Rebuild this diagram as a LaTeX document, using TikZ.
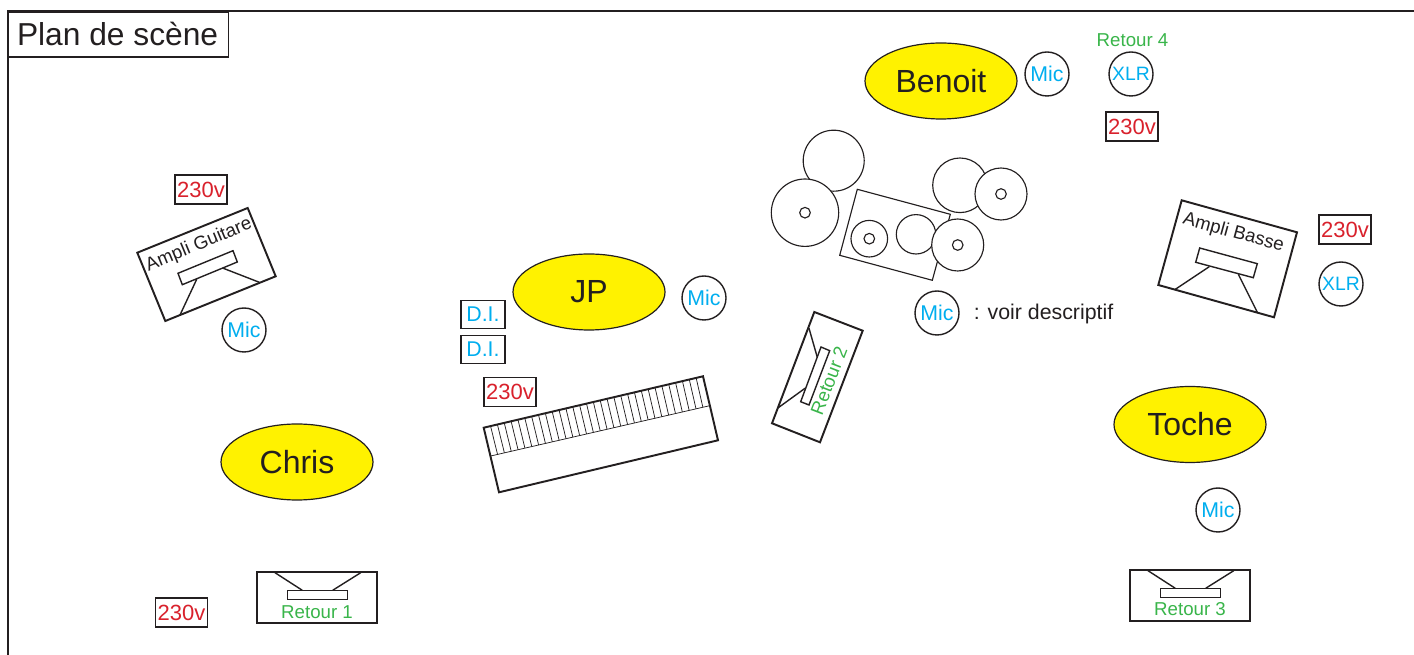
\documentclass[tikz,border=0pt]{standalone}
\usepackage{fontspec}
\setmainfont{Liberation Sans}
\usetikzlibrary{calc,shapes.geometric}
\definecolor{ink}{HTML}{231F20}
\definecolor{micblue}{HTML}{00AEEF}
\definecolor{powred}{HTML}{D9212C}
\definecolor{retgreen}{HTML}{39B54A}
\definecolor{stagey}{HTML}{FFF200}
\newcommand{\fs}[1]{\fontsize{#1}{#1}\selectfont}
\tikzset{
  x=0.75pt,y=-0.75pt,
  line/.style={draw=ink,line width=1.45pt},
  thin line/.style={draw=ink,line width=1.05pt},
  hair/.style={draw=ink,line width=0.55pt},
  musician/.style={ellipse,draw=ink,line width=0.9pt,fill=stagey,minimum width=114pt,minimum height=57pt,inner sep=0pt,text=ink,font=\fs{24}},
  plug/.style={circle,draw=ink,line width=1.05pt,fill=white,minimum size=33pt,inner sep=0pt,text=micblue,font=\fs{16}},
  power/.style={rectangle,draw=ink,line width=1.2pt,fill=white,minimum width=39pt,minimum height=22pt,inner sep=0pt,text=powred,font=\fs{16.5}},
  di/.style={rectangle,draw=ink,line width=1.2pt,fill=white,minimum width=33pt,minimum height=21pt,inner sep=0pt,text=micblue,font=\fs{16}},
  retour/.style={text=retgreen,font=\fs{14},inner sep=0pt},
  amp/.style={text=ink,font=\fs{14},inner sep=0pt},
  drum/.style={draw=ink,line width=0.85pt,fill=white},
}
\begin{document}
\begin{tikzpicture}
\useasboundingbox[fill=white] (0,0) rectangle (1414,655);
% frame
\draw[line] (8,655) -- (8,11) -- (1414,11);
\node[draw=ink,line width=1.3pt,fill=white,anchor=north west,minimum width=165pt,minimum height=33.75pt,inner sep=0pt,font=\fs{23.8},text=ink] (title) at (7.5,11) {\kern-1.2pt Plan de scène};

% musicians
\node[musician] (benoit) at (941,81) {Benoit};
\node[musician] (jp) at (589,292) {JP};
\node[musician] (chris) at (297,462) {Chris};
\node[musician] (toche) at (1190,424.5) {Toche};

% mics and XLR
\node[plug] (mic1) at (1047,74) {Mic};
\node[plug] (mic2) at (704,298) {Mic};
\node[plug] (mic3) at (937,313) {Mic};
\node[plug] (mic4) at (1218,510) {Mic};
\node[plug] (mic5) at (244,330) {Mic};
\node[plug,font=\fs{14.5}] (xlr1) at (1131,74) {XLR};
\node[plug,font=\fs{14.5}] (xlr2) at (1341,284) {XLR};
\node[anchor=west,inner sep=0pt,text=ink,font=\fs{16}] (voir) at (973.5,313.5) {: voir descriptif};

% power
\node[power] (p1) at (201,189.5) {230v};
\node[power] (p2) at (1132,126.5) {230v};
\node[power] (p3) at (1345,229.5) {230v};
\node[power] (p4) at (510,392) {230v};
\node[power] (p5) at (181.5,612.5) {230v};

% DI
\node[di] (di1) at (483,314.5) {D.I.};
\node[di] (di2) at (483,349.5) {D.I.};

% Ampli guitare
\draw[line] (137.3,252.7) -- (247.7,208) -- (275.7,276.3) -- (165.3,321) -- cycle;
\draw[thin line] (178,273.3) -- (233,250.7) -- (237.3,262) -- (182.3,284.7) -- cycle;
\draw[thin line] (196.7,279.3) -- (180,315);
\draw[thin line] (223.3,268.3) -- (259.3,282.3);
\node[amp,rotate=22.5] (ag) at (199,245) {Ampli Guitare};

% Ampli basse
\draw[line] (1181.7,200.3) -- (1297,232.3) -- (1274,317.3) -- (1158.3,285) -- cycle;
\draw[thin line] (1199.7,248) -- (1257.3,263.7) -- (1253.3,277.7) -- (1195.7,262.3) -- cycle;
\draw[thin line] (1209.3,266.7) -- (1174.7,289.7);
\draw[thin line] (1238.3,274.3) -- (1257.3,312.3);
\node[amp,rotate=-15.5] (ab) at (1233.5,233) {Ampli Basse};

% Retour 1
\draw[line] (257.3,572) rectangle (377,623);
\draw[thin line] (287.7,590.3) rectangle (347.3,599.3);
\draw[thin line] (275,572.7) -- (302.3,590.3);
\draw[thin line] (360.7,572.7) -- (332.7,590.3);
\node[retour] (r1) at (317,612) {Retour 1};

% Retour 3
\draw[line] (1130.3,570) rectangle (1250,621);
\draw[thin line] (1160.7,588.3) rectangle (1220.3,597.3);
\draw[thin line] (1148,570.7) -- (1175.3,588.3);
\draw[thin line] (1233.7,570.7) -- (1205.7,588.3);
\node[retour] (r3) at (1190,609) {Retour 3};

% Retour 2
\draw[line] (814.3,312) -- (862.7,330.7) -- (820,442.3) -- (772,423.3) -- cycle;
\draw[thin line] (821,347) -- (829.7,350.7) -- (809,405) -- (800.7,401.7) -- cycle;
\draw[thin line] (809,328.3) -- (817.3,357.3);
\draw[thin line] (805,388.3) -- (778.3,407.7);
\node[retour,rotate=69] (r2) at (829,380.5) {Retour 2};

% Retour 4
\node[retour] (r4) at (1132.5,40) {Retour 4};

% Keyboard
\coordinate (ka) at (483.7,427.7);
\coordinate (kb) at (703,376.3);
\coordinate (kc) at (709.7,405.7);
\coordinate (kd) at (490.7,456);
\foreach \i in {1,...,31}{
  \draw[hair] ($(ka)!\i/32!(kb)$) -- ($(kd)!\i/32!(kc)$);
}
\draw[hair] (kd) -- (kc);
\draw[line] (ka) -- (kb) -- (718,440.3) -- (499,492.3) -- cycle;

% Drums
\draw[drum] (833.7,160.7) circle[radius=30.5];
\draw[drum] (805,212.7) circle[radius=33.7];
\draw[drum] (805,212.7) circle[radius=5.3];
\draw[drum] (857.3,189.3) -- (950.3,214.3) -- (932.3,280.3) -- (839.7,255.3) -- cycle;
\draw[drum] (869.3,238.7) circle[radius=18.3];
\draw[drum] (869.3,238.7) circle[radius=5.3];
\draw[drum] (916,234.3) circle[radius=19.7];
\draw[drum] (957.7,245) circle[radius=26];
\draw[drum] (957.7,245) circle[radius=5.3];
\draw[drum] (960,185.3) circle[radius=27.3];
\draw[drum] (1001,194) circle[radius=26];
\draw[drum] (1001,194) circle[radius=5.3];
\end{tikzpicture}
\end{document}
